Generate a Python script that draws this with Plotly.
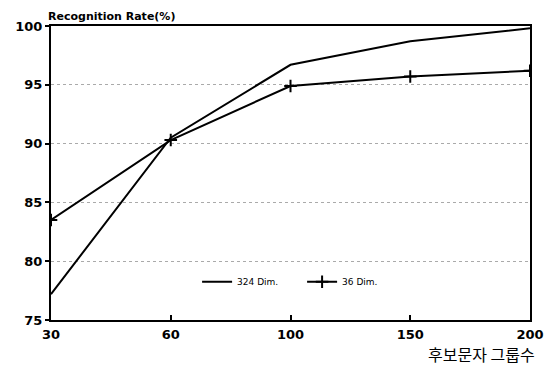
import plotly.graph_objects as go

categories = ["30", "60", "100", "150", "200"]
dim324 = [77.2, 90.5, 96.7, 98.7, 99.8]
dim36 = [83.5, 90.3, 94.9, 95.7, 96.2]
y_ticks = [75, 80, 85, 90, 95, 100]

fig = go.Figure()
fig.add_trace(go.Scatter(
    x=categories, y=dim324, mode="lines", name="324 Dim.",
    line=dict(color="black", width=2),
))
fig.add_trace(go.Scatter(
    x=categories, y=dim36, mode="lines+markers", name="36 Dim.",
    line=dict(color="black", width=2),
    marker=dict(symbol="cross-thin", size=9, color="black",
                line=dict(color="black", width=2)),
))

tick_font = dict(family="DejaVu Sans, Arial, sans-serif", size=13, color="black", weight="bold")
B = 48

fig.update_layout(
    width=536, height=360,
    margin=dict(l=43, r=14, t=18, b=B, autoexpand=False),
    paper_bgcolor="white", plot_bgcolor="white",
    font=dict(family="DejaVu Sans, Arial, sans-serif", size=13, color="black"),
    showlegend=True,
    legend=dict(orientation="h", x=0.305, y=0.13, xanchor="left", yanchor="middle",
                bgcolor="rgba(0,0,0,0)",
                font=dict(family="DejaVu Sans, Arial, sans-serif", size=9, color="black"),
                itemwidth=30, entrywidth=60, tracegroupgap=0),
    xaxis=dict(
        type="category", range=[0, 4], automargin=False,
        showline=True, linecolor="black", linewidth=2, mirror=True,
        ticks="inside", ticklen=5, tickcolor="black", tickwidth=2,
        ticklabelstandoff=1,
        showgrid=False, zeroline=False,
        tickfont=tick_font,
    ),
    yaxis=dict(
        range=[75, 100], tickvals=y_ticks, automargin=False,
        showline=True, linecolor="black", linewidth=2, mirror=True,
        ticks="outside", ticklen=4, tickcolor="black", tickwidth=2,
        showgrid=True, gridcolor="#aaaaaa", griddash="dot", gridwidth=1,
        zeroline=False,
        tickfont=tick_font,
    ),
    annotations=[
        dict(text="Recognition Rate(%)", xref="paper", yref="paper",
             x=-0.01, y=1.0, xanchor="left", yanchor="bottom", yshift=1,
             showarrow=False,
             font=dict(family="DejaVu Sans, Arial, sans-serif", size=11,
                       weight="bold", color="black")),
        dict(text="후보문자 그룹수", xref="paper", yref="paper",
             x=1.015, y=-B / 294, xanchor="right", yanchor="bottom", yshift=0,
             showarrow=False,
             font=dict(family="Noto Sans CJK KR", size=16, color="black")),
    ],
)

fig.write_html("out.html")
